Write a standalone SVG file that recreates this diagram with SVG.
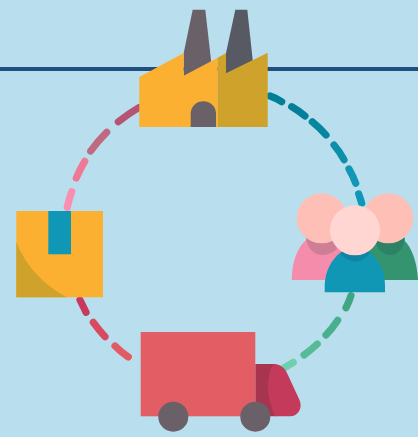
<svg xmlns="http://www.w3.org/2000/svg" width="418" height="437" viewBox="0 0 418 437">
<style>
.d{fill:none;stroke-width:7.2;stroke-linecap:round}
.y{fill:#fbb031}.o{fill:#cfa22c}.g{fill:#6a6068}.h{fill:#fec0b6}
</style>
<rect width="418" height="437" fill="#b9dfee"/>
<rect y="67" width="418" height="4" fill="#1f4f7f"/>
<g id="connectors">
<path class="d" stroke="#007f95" d="M270,96Q276,98 281.7,101.700"/>
<path class="d" stroke="#037f98" d="M291.700,106.700Q299,111 305,116"/>
<path class="d" stroke="#07879f" d="M312.300,121.700Q320,128 326,135"/>
<path class="d" stroke="#0d8fa9" d="M334,145Q340,152 344,159.700"/>
<path class="d" stroke="#1196b3" d="M349,169Q353,176 355.700,183.300"/>
<path class="d" stroke="#1097b6" d="M358.700,194Q360.500,199 361.700,203.300"/>
<path class="d" stroke="#3fa583" d="M351,295.700Q349,302 346,307.700"/>
<path class="d" stroke="#4aaf8c" d="M337.700,320.300Q332,329 326,335"/>
<path class="d" stroke="#58bb97" d="M317.300,344Q311,350 304,355"/>
<path class="d" stroke="#70cfad" d="M293.300,362.300Q288,365.500 283.300,368.300"/>
<path class="d" stroke="#e25b64" d="M128.300,357Q121,352 115,346"/>
<path class="d" stroke="#d84a60" d="M105,336.700Q99,330 93.300,322.300"/>
<path class="d" stroke="#c8395b" d="M86,312.300Q83,306 80,300"/>
<path class="d" stroke="#f88fb0" d="M67.300,207.300Q69,199 71.700,191.700"/>
<path class="d" stroke="#ee7896" d="M76.300,178Q80,169 84.700,161.300"/>
<path class="d" stroke="#bf6a80" d="M90.700,151Q98,141 106.700,132.300"/>
<path class="d" stroke="#b65473" d="M118.300,121.700Q128,114 139,107.500"/>
</g>
<g id="factory">
<path class="g" d="M192.700,9.700H205.300L211,60V80H183.700V53Z"/>
<path fill="#585a63" d="M235.300,9.700H247.300L252.700,60V80H226V53Z"/>
<path class="y" d="M139.300,127V77L183.700,53V75.700L217.700,57.700V127Z"/>
<path class="o" d="M217.700,57.700L226,53V73.300L267.700,52.700V127H217.700Z"/>
<path class="g" d="M190.700,127V112.700A12.700,12.700 0 0 1 216,112.700V127Z"/>
</g>
<g id="people">
<path fill="#f68cab" d="M291.700,280C292,262 297,248 306,240L325,236L350,240V280Z"/>
<path fill="#cc7f95" d="M306,238C307,249 315,255 322,255C331,255 338,250 340,243L330,232H310Z"/>
<path fill="#349470" d="M418,280C417,262 412,248 404,240L385,236L360,240V280Z"/>
<path fill="#2d8266" d="M375,240C377,250 384,255 390,255C397,255 404,249 405,238L395,232H380Z"/>
<circle class="h" cx="321.700" cy="218.300" r="25"/>
<circle class="h" cx="388.300" cy="218.300" r="25"/>
<path fill="#1097b6" d="M324.700,292.300V285C325,272 331,260 340,253L355,249L370,253C379,260 385,272 385,285V292.300Z"/>
<path fill="#0f85a3" d="M340,253C344,258 350,261.700 355,261.700C360,261.700 366,258 370,253L362,248H348Z"/>
<circle fill="#ffd6d2" cx="355" cy="230.300" r="25"/>
</g>
<g id="truck">
<path fill="#a73550" d="M255.300,364H274L280,366L276,416.300H255.300Z"/>
<path fill="#c43a5b" d="M274,364C280,364 285,368 287,373L299.500,400C303,408 298,416.300 290,416.300H275C270,404 267,392 268.300,381.700C269,373 271,366 274,364Z"/>
<rect x="140.700" y="332" width="114.600" height="84.300" fill="#e35d64"/>
<circle class="g" cx="173.300" cy="416.700" r="15"/>
<circle class="g" cx="255.300" cy="416.700" r="15"/>
</g>
<g id="box">
<rect class="y" x="16.300" y="211" width="86.700" height="86.300"/>
<path class="o" d="M16.300,242.300C27,268 44,285 66.700,297.300H16.300Z"/>
<rect x="48.300" y="211" width="22.700" height="43.300" fill="#1097b6"/>
</g>
</svg>
